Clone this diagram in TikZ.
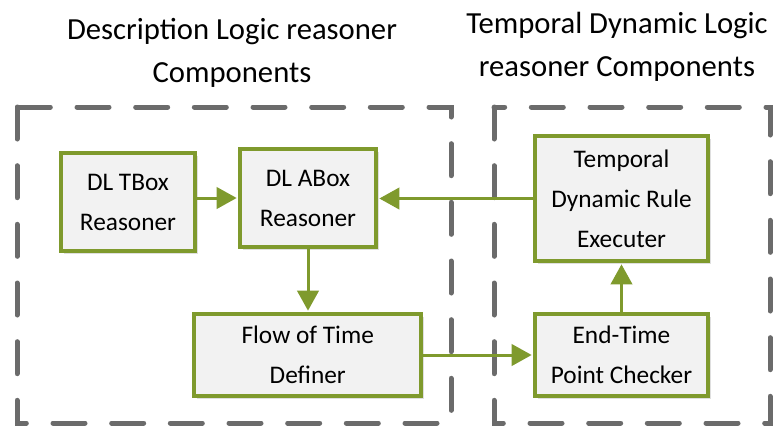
\documentclass[tikz,border=0pt]{standalone}
\usepackage{fontspec}
\setmainfont{Carlito}
\usetikzlibrary{arrows.meta,shadows}

\definecolor{olivegreen}{HTML}{7F9A2D}
\definecolor{boxgray}{HTML}{F2F2F2}
\definecolor{dashgray}{HTML}{6B6B6B}

\begin{document}
\begin{tikzpicture}[%
    x=0.75pt, y=-0.75pt,
    block/.style={
      rectangle,
      draw=olivegreen,
      line width=3pt,
      fill=boxgray,
      inner sep=0pt,
      align=center,
      font=\fontsize{19}{30}\selectfont,
      drop shadow={opacity=0.25, shadow xshift=2pt, shadow yshift=-2pt}
    },
    group/.style={
      draw=dashgray,
      line width=3.75pt,
      line cap=round,
      dash pattern=on 24pt off 20pt
    },
    title/.style={
      align=center,
      font=\fontsize{23}{32}\selectfont
    },
    line/.style={
      draw=olivegreen,
      line width=2.25pt,
      shorten >=1pt,
      -{Triangle[length=15pt,width=16pt]}
    }
  ]
    \useasboundingbox (0,0) rectangle (776,430);

    % component groups
    \draw[group] (17,107) rectangle (451,423);
    \draw[group] (494,107) rectangle (770,423);
    \node[title] (dltitle) at (232,53) {Description Logic reasoner\\Components};
    \node[title] (tdltitle) at (617,47) {Temporal Dynamic Logic\\reasoner Components};

    % blocks
    \node[block, minimum width=100.5pt, minimum height=73.5pt] (tbox) at (128,202) {DL TBox\\Reasoner};
    \node[block, minimum width=102pt, minimum height=73.5pt] (abox) at (308,198) {DL ABox\\Reasoner};
    \node[block, minimum width=129.75pt, minimum height=93.75pt] (rule) at (621.5,198.5) {Temporal\\Dynamic Rule\\Executer};
    \node[block, minimum width=170pt, minimum height=61.5pt] (flow) at (307.75,355) {Flow of Time\\Definer};
    \node[block, minimum width=129.75pt, minimum height=61.5pt] (endtime) at (621.5,355) {End-Time\\Point Checker};

    % connectors
    \draw[line] (tbox.east |- abox.west) -- (abox.west);
    \draw[line] (rule.west) -- (rule.west -| abox.east);
    \draw[line] (abox.south) -- (abox.south |- flow.north);
    \draw[line] (flow.east) -- (endtime.west);
    \draw[line] (endtime.north) -- (rule.south);
\end{tikzpicture}
\end{document}
